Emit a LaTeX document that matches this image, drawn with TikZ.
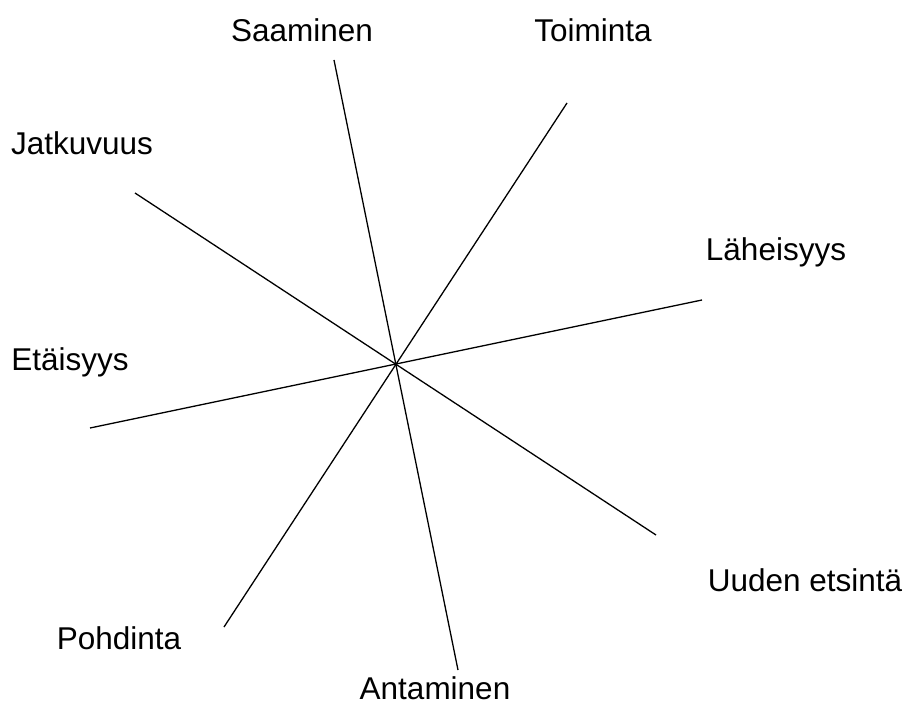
\documentclass[tikz,border=0pt]{standalone}
\usepackage{fontspec}
\setmainfont{Liberation Sans}
\usetikzlibrary{positioning}

\begin{document}
\begin{tikzpicture}[
  x=1pt, y=-1pt,
  axis/.style={line width=1.3pt, black},
  lbl/.style={font=\fontsize{31.5}{36}\selectfont, inner sep=0pt, anchor=center},
]
\useasboundingbox (0,0) rectangle (906,706);

% === axis end points ===
\coordinate (saa) at (334, 60);
\coordinate (ant) at (458, 670);
\coordinate (toi) at (567, 103);
\coordinate (poh) at (224, 627);
\coordinate (jat) at (135, 193);
\coordinate (uud) at (656, 535);
\coordinate (lah) at (702, 300);
\coordinate (eta) at (90, 428);

\draw[axis] (saa) -- (ant);
\draw[axis] (toi) -- (poh);
\draw[axis] (jat) -- (uud);
\draw[axis] (lah) -- (eta);

% === labels ===
\node[lbl] (lsaa) at (302, 30) {Saaminen};
\node[lbl] (ltoi) at (593, 30) {Toiminta};
\node[lbl] (ljat) at (82, 143) {Jatkuvuus};
\node[lbl] (llah) at (776, 252) {Läheisyys};
\node[lbl] (leta) at (70, 362) {Etäisyys};
\node[lbl] (luud) at (805, 580) {Uuden etsintä};
\node[lbl] (lpoh) at (119, 638) {Pohdinta};
\node[lbl] (lant) at (435, 688) {Antaminen};

\end{tikzpicture}
\end{document}
